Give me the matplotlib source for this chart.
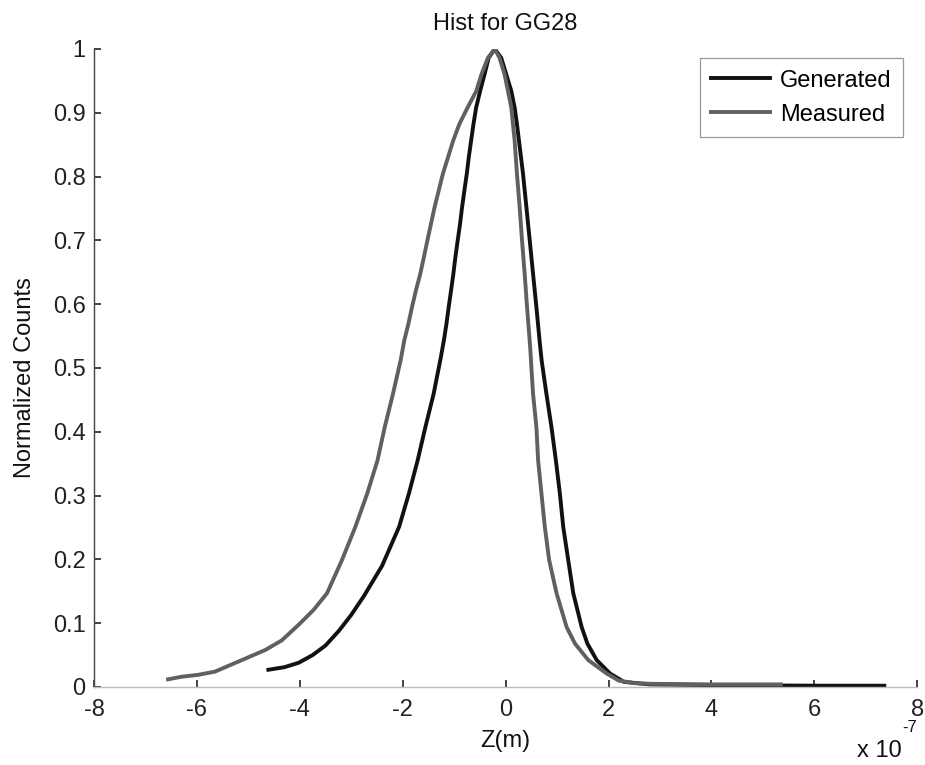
import matplotlib
matplotlib.use("Agg")
import matplotlib.pyplot as plt

plt.rcParams["font.family"] = ["Liberation Sans", "DejaVu Sans"]

# Z positions in units of 1e-7 m, normalized counts
measured_z = [-6.56, -6.30, -5.98, -5.65, -5.13, -4.67, -4.35, -3.99, -3.73, -3.47,
              -3.18, -2.92, -2.69, -2.49, -2.35, -2.19, -2.04, -1.97, -1.89, -1.82,
              -1.745, -1.66, -1.59, -1.52, -1.45, -1.38, -1.30, -1.22, -1.12, -1.02,
              -0.90, -0.74, -0.57, -0.47, -0.345, -0.21,
              -0.117, -0.020, 0.046, 0.111, 0.143, 0.176, 0.221, 0.273, 0.319, 0.371,
              0.417, 0.48, 0.501, 0.534, 0.599, 0.632, 0.697, 0.762, 0.846, 0.990,
              1.185, 1.348, 1.608, 1.966, 2.20, 2.50, 2.80, 4.00, 5.35]
measured_n = [0.012, 0.016, 0.019, 0.024, 0.042, 0.058, 0.073, 0.100, 0.121, 0.147,
              0.199, 0.251, 0.303, 0.355, 0.407, 0.459, 0.512, 0.543, 0.569, 0.595,
              0.621, 0.647, 0.673, 0.700, 0.726, 0.752, 0.778, 0.804, 0.830, 0.856,
              0.882, 0.908, 0.934, 0.960, 0.986, 1.000,
              0.986, 0.960, 0.934, 0.908, 0.882, 0.856, 0.804, 0.752, 0.700, 0.647,
              0.595, 0.530, 0.501, 0.459, 0.407, 0.355, 0.303, 0.251, 0.199, 0.147,
              0.094, 0.068, 0.042, 0.021, 0.010, 0.006, 0.005, 0.004, 0.004]

generated_z = [-4.61, -4.30, -4.02, -3.75, -3.50, -3.24, -3.00, -2.75, -2.40, -2.07,
               -1.88, -1.71, -1.56, -1.40, -1.27, -1.20, -1.15, -1.107, -1.061, -1.016,
               -0.977, -0.931, -0.885, -0.846, -0.801, -0.755, -0.716, -0.671, -0.625, -0.573,
               -0.495, -0.41, -0.33, -0.21,
               -0.085, 0.013, 0.111, 0.176, 0.221, 0.260, 0.339, 0.404, 0.469, 0.534,
               0.599, 0.66, 0.70, 0.794, 0.892, 0.977, 1.055, 1.120, 1.217, 1.315,
               1.478, 1.589, 1.771, 2.031, 2.30, 2.80, 4.00, 6.00, 7.36]
generated_n = [0.027, 0.031, 0.038, 0.050, 0.065, 0.088, 0.113, 0.143, 0.190, 0.251,
               0.303, 0.355, 0.407, 0.459, 0.512, 0.543, 0.569, 0.595, 0.621, 0.647,
               0.673, 0.700, 0.726, 0.752, 0.778, 0.804, 0.830, 0.856, 0.882, 0.908,
               0.934, 0.960, 0.986, 1.000,
               0.986, 0.960, 0.934, 0.908, 0.882, 0.856, 0.804, 0.752, 0.700, 0.647,
               0.595, 0.543, 0.512, 0.459, 0.407, 0.355, 0.303, 0.251, 0.199, 0.147,
               0.094, 0.068, 0.042, 0.021, 0.008, 0.004, 0.003, 0.002, 0.002]

x_ticks = [-8, -6, -4, -2, 0, 2, 4, 6, 8]
y_ticks = [0, 0.1, 0.2, 0.3, 0.4, 0.5, 0.6, 0.7, 0.8, 0.9, 1]

FS = 17
fig = plt.figure(figsize=(9.25, 7.65), dpi=100)
ax = fig.add_axes([0.1016, 0.102, 0.890, 0.834])

ax.plot(generated_z, generated_n, color="#111111", lw=2.8, label="Generated",
        solid_joinstyle="round")
ax.plot(measured_z, measured_n, color="#606060", lw=2.8, label="Measured",
        solid_joinstyle="round")

ax.set_xlim(-8, 8)
ax.set_ylim(0, 1)
ax.set_xticks(x_ticks)
ax.set_xticklabels([str(t) for t in x_ticks])
ax.set_yticks(y_ticks)
ax.set_yticklabels(["0"] + [f"{t:g}" for t in y_ticks[1:-1]] + ["1"])
ax.tick_params(direction="in", length=5, width=1.2, labelsize=FS,
               colors="#222222")
ax.tick_params(axis="y", pad=6)
ax.tick_params(axis="x", pad=9)

for side in ("top", "right"):
    ax.spines[side].set_visible(False)
ax.spines["left"].set_color("#444444")
ax.spines["left"].set_linewidth(1.0)
ax.spines["bottom"].set_color("#bbbbbb")
ax.spines["bottom"].set_linewidth(1.0)

ax.set_title("Hist for GG28", fontsize=FS, pad=14, color="#111111")
ax.set_xlabel("Z(m)", fontsize=FS, labelpad=6, color="#111111")
ax.set_ylabel("Normalized Counts", fontsize=FS, color="#111111")
ax.yaxis.set_label_coords(-0.070, 0.485)

# axis multiplier placed under the right end of the x axis
fig.text(0.926, 0.0105, "x 10", fontsize=FS, ha="left", va="baseline",
         color="#111111")
fig.text(0.975, 0.043, "-7", fontsize=12, ha="left", va="baseline",
         color="#111111")

leg = ax.legend(loc="upper right", bbox_to_anchor=(0.983, 0.986),
                borderaxespad=0, fontsize=FS, handlelength=2.5,
                handletextpad=0.4, borderpad=0.5, labelspacing=0.5,
                fancybox=False, framealpha=1)
leg.get_frame().set_edgecolor("#999999")
leg.get_frame().set_linewidth(0.9)

fig.savefig("out.png", dpi=100, facecolor="white")
